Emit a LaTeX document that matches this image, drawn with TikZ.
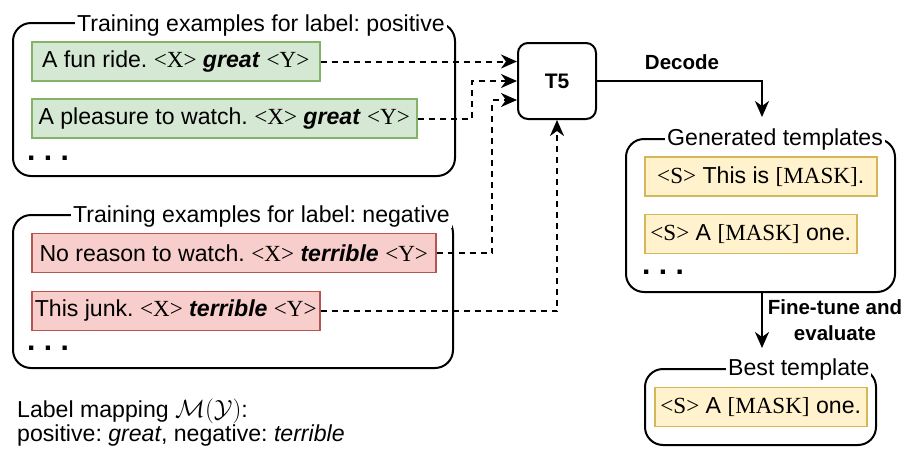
\documentclass[tikz,border=0pt]{standalone}
\usepackage{fontspec}
\setmainfont{Liberation Sans}
\newfontfamily\tmsfam{Liberation Serif}
\usetikzlibrary{arrows.meta}
\frenchspacing

\definecolor{grnfill}{HTML}{D5E8D4}
\definecolor{grnline}{HTML}{82B366}
\definecolor{redfill}{HTML}{F8CECC}
\definecolor{redline}{HTML}{B85450}
\definecolor{ylwfill}{HTML}{FFF2CC}
\definecolor{ylwline}{HTML}{D6B656}

% font helpers
\newcommand\fsmain{\fontsize{23.1}{27}\selectfont}
\newcommand\fslbl{\bfseries\fontsize{20.5}{26}\selectfont}
\newcommand\tmsp[1]{{\tmsfam #1}}
\newcommand\kw[1]{\textbf{\textit{#1}}}
\newcommand\mapsym{{\fontsize{24.88}{27}\selectfont$\mathcal{M}(\mathcal{Y})$}}

\tikzset{
  group/.style={draw, line width=2pt, rounded corners=18pt, inner sep=0pt},
  gtitle/.style={fill=white, inner xsep=2pt, inner ysep=1pt, anchor=base west, font=\fsmain},
  example/.style={draw, line width=1.5pt, inner sep=0pt, minimum height=39pt, anchor=west, font=\fsmain},
  posex/.style={example, fill=grnfill, draw=grnline},
  negex/.style={example, fill=redfill, draw=redline},
  tplex/.style={example, fill=ylwfill, draw=ylwline},
  dotsnode/.style={anchor=base west, inner sep=0pt, font=\bfseries\fontsize{30}{30}\selectfont},
  lbl/.style={font=\fslbl, inner sep=0pt, align=center},
  tip/.style={-{Stealth[length=16pt,width=14pt,inset=5pt]}},
  conn/.style={tip, line width=2pt, dash pattern=on 6pt off 5pt},
  flow/.style={tip, line width=2pt},
}

\begin{document}
\begin{tikzpicture}[x=1pt, y=-1pt]
\useasboundingbox (0,0) rectangle (906,448);

% positive examples
\node[group, minimum width=442, minimum height=153] (posgrp) at (234,99.5) {};
\node[gtitle] (postitle) at (75,31) {Training examples for label: positive};
\node[posex, minimum width=288] (g1) at (31,61.5) {A fun ride. \tmsp{<X>} \kw{great} \tmsp{<Y>}};
\node[posex, minimum width=385] (g2) at (31,118.5) {A pleasure to watch. \tmsp{<X>} \kw{great} \tmsp{<Y>}};
\node[dotsnode] (posdots) at (27,160) {. . .};

% negative examples
\node[group, minimum width=440, minimum height=153] (neggrp) at (233,291.5) {};
\node[gtitle] (negtitle) at (71,222) {Training examples for label: negative};
\node[negex, minimum width=404] (r1) at (31,253) {No reason to watch. \tmsp{<X>} \kw{terrible} \tmsp{<Y>}};
\node[negex, minimum width=288] (r2) at (31,311) {This junk. \tmsp{<X>} \kw{terrible} \tmsp{<Y>}};
\node[dotsnode] (negdots) at (27,350) {. . .};

% T5 model
\node[draw, line width=2pt, rounded corners=10pt, minimum width=78, minimum height=76,
      font=\bfseries\fontsize{21}{25}\selectfont] (t5) at (557,81) {T5};

% inputs to T5
\coordinate (j1) at (472,81);
\coordinate (j2) at (492,100);
\draw[conn] (g1.east) -- (g1.east -| t5.west);
\draw[conn] (g2.east) -| (j1) -- (j1 -| t5.west);
\draw[conn] (r1.east) -| (j2) -- (j2 -| t5.west);
\draw[conn] (r2.east) -| (t5.south);

% generated templates
\node[group, minimum width=269, minimum height=153] (gen) at (760.5,215.5) {};
\node[gtitle] (gentitle) at (665,145) {Generated templates};
\node[tplex, minimum width=232] (y1) at (644,176.5) {\tmsp{<S>} This is \tmsp{[MASK]}.};
\node[tplex, minimum width=212] (y2) at (644,234) {\tmsp{<S>} A \tmsp{[MASK]} one.};
\node[dotsnode] (gendots) at (642,274) {. . .};

\coordinate (d1) at (762,117);
\draw[flow] (t5.east) -| (d1);
\node[lbl] (dec) at (682,62) {Decode};

% best template
\node[group, minimum width=231, minimum height=76] (best) at (760.5,407) {};
\node[gtitle] (besttitle) at (726,375) {Best template};
\node[tplex, minimum width=212] (yb) at (654,407) {\tmsp{<S>} A \tmsp{[MASK]} one.};

\coordinate (f1) at (762,348);
\draw[flow] (gen.south -| f1) -- (f1);
\node[lbl] (ft) at (835,320) {Fine-tune and\\evaluate};

% label mapping note
\node[anchor=base west, inner sep=0pt, font=\fsmain] (map1) at (17,417) {Label mapping \mapsym:};
\node[anchor=base west, inner sep=0pt, font=\fsmain] (map2) at (17,441) {positive: \textit{great}, negative: \textit{terrible}};
\end{tikzpicture}
\end{document}
